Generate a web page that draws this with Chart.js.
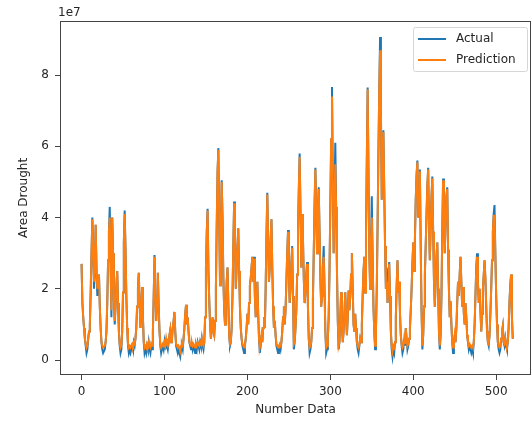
<!DOCTYPE html>
<html>
<head>
<meta charset="utf-8">
<script src="https://cdn.jsdelivr.net/npm/chart.js@4/dist/chart.umd.min.js"></script>
<style>
  html, body { margin: 0; padding: 0; background: #fff; }
</style>
</head>
<body>
<canvas id="droughtChart" width="532" height="421"></canvas>
<script>
// Values are in units of 1e7 (matching the axis offset label)
const seriesNames = ['Actual', 'Prediction'];
const xTicks = [0, 100, 200, 300, 400, 500];
const yTicks = [0, 2, 4, 6, 8];

const actual = [
  2.7,1.6,1.2,0.9,0.6,0.4,0.2,0.3,0.6,0.8,1.0,1.9,3.0,4.0,3.2,2.0,2.5,3.8,2.6,1.8,
  2.1,2.4,1.5,0.9,0.5,0.3,0.2,0.2,0.3,0.5,0.8,1.6,2.8,3.6,4.3,2.7,1.2,4.0,3.0,1.7,
  1.0,1.5,2.1,2.5,1.6,0.8,0.4,0.2,0.3,0.8,1.9,3.3,4.2,3.1,1.8,0.9,0.4,0.2,0.3,0.2,
  0.3,0.4,0.3,0.5,0.4,0.6,0.9,1.5,2.0,2.45,1.6,0.9,1.4,2.05,1.2,0.5,0.2,0.3,0.2,0.4,
  0.3,0.5,0.3,0.2,0.4,0.3,0.8,1.8,2.95,2.0,1.1,1.7,2.45,1.5,0.8,0.4,0.2,0.2,0.4,0.3,
  0.5,0.3,0.6,0.4,0.3,0.5,0.7,0.85,0.5,0.6,0.9,1.1,1.35,0.8,0.4,0.3,0.2,0.3,0.2,0.1,
  0.3,0.4,0.3,0.6,0.9,1.3,1.55,1.0,1.2,0.8,0.5,0.4,0.3,0.5,0.3,0.4,0.3,0.2,0.4,0.3,
  0.5,0.4,0.3,0.5,0.4,0.6,0.4,0.3,0.5,1.2,2.6,3.6,4.25,2.5,1.65,1.0,0.6,0.9,1.2,0.8,
  0.7,1.1,2.0,3.8,5.3,5.95,3.9,2.1,3.6,5.05,4.0,2.3,1.4,1.0,1.5,2.2,2.6,1.6,0.7,0.4,
  0.5,0.9,1.8,3.2,4.45,3.4,2.0,2.6,3.2,3.7,2.5,1.5,0.9,0.6,0.4,0.3,0.2,0.4,0.6,0.9,
  1.3,1.0,1.6,2.1,2.3,2.6,2.9,2.2,2.9,1.8,1.2,1.7,2.2,1.3,0.6,0.2,0.4,0.7,0.5,0.9,
  1.2,0.9,2.0,3.5,4.7,3.3,2.2,2.6,3.4,3.95,2.6,1.5,0.9,1.1,0.7,0.4,0.3,0.2,0.3,0.4,
  0.3,0.5,0.8,1.2,1.5,1.0,1.4,2.2,3.0,3.65,2.4,1.6,2.0,2.7,3.2,1.8,0.3,0.5,0.9,1.4,
  2.4,3.6,4.8,5.8,4.2,2.6,4.1,3.4,2.3,1.6,1.9,2.4,2.75,1.5,0.6,0.2,0.3,0.5,0.9,1.7,
  3.0,4.4,5.4,4.1,3.0,4.2,4.85,3.6,2.3,1.5,1.8,2.6,3.2,2.0,0.8,0.2,0.3,0.6,1.2,2.5,
  4.3,6.2,7.67,5.0,3.0,4.5,6.1,4.3,2.5,1.1,0.3,0.5,1.2,1.9,1.0,0.5,0.8,1.3,1.9,1.2,
  0.7,1.2,1.95,1.4,1.8,2.4,3.0,2.0,1.0,0.8,1.3,0.9,0.5,0.3,0.2,0.4,0.6,0.5,1.0,1.8,
  2.5,2.9,1.9,3.5,5.6,7.65,5.3,3.0,2.0,3.2,4.6,2.9,1.5,0.8,0.3,0.8,2.0,3.8,5.8,7.6,
  9.07,7.0,4.5,5.6,6.45,4.8,3.2,2.0,2.6,1.6,2.1,2.75,1.8,0.8,0.3,0.1,0.3,0.2,0.5,1.2,
  2.1,2.8,1.9,2.2,1.3,0.7,0.4,0.2,0.3,0.6,0.4,0.9,0.6,0.3,0.4,0.6,0.9,1.4,2.0,2.7,
  3.3,2.5,3.4,4.5,5.2,5.6,4.0,4.6,5.35,3.2,1.4,0.3,0.7,1.5,2.4,3.2,4.1,4.9,5.4,3.8,
  2.8,3.7,4.6,5.15,3.6,2.2,1.5,2.2,2.9,3.3,2.0,0.8,0.3,0.7,1.8,3.6,5.1,4.4,3.0,3.9,
  4.6,4.85,3.1,2.0,1.2,1.65,1.0,0.5,0.2,0.4,0.7,0.5,0.9,1.6,2.2,1.8,2.4,2.9,2.2,1.5,
  2.05,1.3,1.0,1.6,1.2,0.7,0.5,0.3,0.4,0.3,0.2,0.3,0.2,0.5,1.0,1.8,2.6,3.0,2.2,1.6,
  2.0,1.4,0.8,1.3,2.0,2.4,2.8,2.3,1.5,0.8,0.5,0.4,0.7,1.3,2.0,2.8,3.6,4.1,4.35,3.0,
  1.8,1.0,0.5,0.3,0.2,0.3,0.6,0.8,0.95,0.5,0.4,0.6,0.4,0.3,0.5,0.9,1.6,2.1,2.4,1.2,0.6
];

const prediction = [
  2.7,1.6,1.2,0.9,0.6,0.45,0.35,0.4,0.6,0.8,1.0,1.9,3.0,3.95,3.2,2.2,2.5,3.8,2.6,2.0,
  2.2,2.4,1.5,0.9,0.5,0.4,0.35,0.35,0.4,0.5,0.8,1.6,2.8,3.6,4.0,2.7,1.4,4.0,3.0,1.7,
  1.1,1.5,2.1,2.5,1.6,0.8,0.45,0.35,0.4,0.8,1.9,3.3,4.1,3.1,1.8,0.9,0.45,0.35,0.4,0.35,
  0.4,0.45,0.4,0.5,0.45,0.6,0.9,1.5,2.0,2.45,1.6,0.9,1.4,2.05,1.2,0.5,0.35,0.4,0.35,0.45,
  0.4,0.5,0.4,0.35,0.45,0.4,0.8,1.8,2.9,2.0,1.1,1.7,2.45,1.5,0.8,0.45,0.35,0.35,0.45,0.4,
  0.5,0.4,0.6,0.45,0.4,0.5,0.7,0.85,0.5,0.6,0.9,1.1,1.35,0.8,0.45,0.4,0.35,0.4,0.35,0.25,
  0.4,0.45,0.4,0.6,0.9,1.3,1.55,1.0,1.2,0.8,0.5,0.45,0.4,0.5,0.4,0.45,0.4,0.35,0.45,0.4,
  0.5,0.45,0.4,0.5,0.45,0.6,0.45,0.4,0.5,1.2,2.6,3.6,4.2,2.5,1.65,1.0,0.6,0.9,1.2,0.8,
  0.7,1.1,2.0,3.8,5.3,5.9,3.9,2.1,3.6,5.0,4.0,2.3,1.4,1.0,1.5,2.2,2.6,1.6,0.7,0.45,
  0.5,0.9,1.8,3.2,4.4,3.4,2.0,2.6,3.2,3.7,2.5,1.5,0.9,0.6,0.45,0.4,0.35,0.45,0.6,0.9,
  1.3,1.0,1.6,2.1,2.3,2.6,2.9,2.2,2.85,1.8,1.2,1.7,2.2,1.3,0.6,0.35,0.45,0.7,0.5,0.9,
  1.2,0.9,2.0,3.5,4.65,3.3,2.2,2.6,3.4,3.95,2.6,1.5,0.9,1.1,0.7,0.45,0.4,0.35,0.4,0.45,
  0.4,0.5,0.8,1.2,1.5,1.0,1.4,2.2,3.0,3.6,2.4,1.6,2.0,2.7,3.15,1.8,0.45,0.5,0.9,1.4,
  2.4,3.6,4.8,5.7,4.2,2.6,4.1,3.4,2.3,1.6,1.9,2.4,2.7,1.5,0.6,0.35,0.4,0.5,0.9,1.7,
  3.0,4.4,5.35,4.1,3.0,4.2,4.8,3.6,2.3,1.5,1.8,2.6,2.9,2.0,0.8,0.35,0.4,0.6,1.2,2.5,
  4.3,6.2,7.4,5.0,3.0,4.5,5.5,4.3,2.5,1.1,0.4,0.5,1.2,1.9,1.0,0.5,0.8,1.3,1.9,1.2,
  0.7,1.2,1.95,1.4,1.8,2.4,3.0,2.0,1.0,0.8,1.3,0.9,0.5,0.4,0.35,0.45,0.6,0.5,1.0,1.8,
  2.5,2.9,1.9,3.5,5.6,7.6,5.3,3.0,2.0,3.2,4.0,2.9,1.5,0.8,0.4,0.8,2.0,3.8,5.8,7.6,
  8.7,7.0,4.5,5.6,6.4,4.8,3.2,2.0,2.2,1.6,2.1,2.7,1.8,0.8,0.4,0.25,0.4,0.35,0.5,1.2,
  2.1,2.8,1.9,2.2,1.3,0.7,0.45,0.35,0.4,0.6,0.45,0.9,0.6,0.4,0.45,0.6,0.9,1.4,2.0,2.7,
  3.3,2.5,3.4,4.5,5.2,5.55,4.0,4.6,5.3,3.2,1.4,0.4,0.7,1.5,2.4,3.2,4.1,4.9,5.35,3.8,
  2.8,3.7,4.6,5.1,3.6,2.2,1.5,2.2,2.9,3.3,2.0,0.8,0.4,0.7,1.8,3.6,5.05,4.4,3.0,3.9,
  4.6,4.8,3.1,2.0,1.2,1.65,1.0,0.5,0.35,0.45,0.7,0.5,0.9,1.6,2.2,1.8,2.4,2.9,2.2,1.5,
  2.05,1.3,1.0,1.6,1.2,0.7,0.5,0.4,0.45,0.4,0.35,0.4,0.35,0.5,1.0,1.8,2.6,2.9,2.2,1.6,
  2.0,1.4,0.8,1.3,2.0,2.4,2.8,2.3,1.5,0.8,0.5,0.45,0.7,1.3,2.0,2.8,3.6,4.05,4.05,3.0,
  1.8,1.0,0.5,0.4,0.35,0.4,0.6,0.8,0.95,0.5,0.45,0.6,0.45,0.4,0.5,0.9,1.6,2.1,2.4,1.2,0.6
];

// x positions are just the sample index
const sampleIndex = actual.map((_, i) => i);

const fontFamily = "'DejaVu Sans', sans-serif";
const textColor = '#262626';
const colors = ['#1f77b4', '#ff7f0e'];

// Full matplotlib-style frame, offset label and legend box
const extras = {
  id: 'extras',
  afterDraw(chart) {
    const { ctx, chartArea: a } = chart;
    ctx.save();
    ctx.strokeStyle = '#444';
    ctx.lineWidth = 1;
    ctx.strokeRect(a.left + 0.5, a.top + 0.5, a.right - a.left - 1, a.bottom - a.top - 1);

    ctx.font = '12px ' + fontFamily;
    ctx.fillStyle = textColor;
    ctx.textAlign = 'left';
    ctx.textBaseline = 'middle';
    ctx.fillText('1e7', a.left - 2, 13);

    // legend
    const lx = a.right - 118, ly = a.top + 6, lw = 114, lh = 44;
    ctx.beginPath();
    ctx.roundRect(lx + 0.5, ly + 0.5, lw, lh, 2);
    ctx.fillStyle = 'rgba(255,255,255,0.8)';
    ctx.fill();
    ctx.strokeStyle = '#d6d6d6';
    ctx.stroke();
    seriesNames.forEach((name, i) => {
      const y = ly + 12 + i * 21;
      ctx.beginPath();
      ctx.moveTo(lx + 5, y);
      ctx.lineTo(lx + 33, y);
      ctx.strokeStyle = colors[i];
      ctx.lineWidth = 2;
      ctx.stroke();
      ctx.fillStyle = textColor;
      ctx.fillText(name, lx + 43, y);
    });
    ctx.restore();
  }
};

new Chart(document.getElementById('droughtChart'), {
  type: 'line',
  data: {
    labels: sampleIndex,
    datasets: [
      { label: seriesNames[0], data: actual, borderColor: colors[0], borderWidth: 2, order: 1 },
      { label: seriesNames[1], data: prediction, borderColor: colors[1], borderWidth: 2, order: 0 }
    ]
  },
  options: {
    responsive: false,
    animation: false,
    devicePixelRatio: 1,
    elements: { point: { radius: 0 }, line: { tension: 0 } },
    layout: { padding: { top: 21, right: 1, left: 0, bottom: 0 } },
    plugins: { legend: { display: false }, tooltip: { enabled: false } },
    scales: {
      x: {
        type: 'linear',
        min: -26,
        max: 542,
        afterBuildTicks: s => { s.ticks = xTicks.map(v => ({ value: v })); },
        afterFit: s => { s.height = 46; },
        grid: { drawOnChartArea: false, tickLength: 5, color: '#444' },
        border: { display: false },
        ticks: { padding: 5, color: textColor, font: { size: 12, family: fontFamily }, maxRotation: 0 },
        title: { display: true, text: 'Number Data', color: textColor,
                 font: { size: 12, family: fontFamily }, padding: { top: 0, bottom: 4 } }
      },
      y: {
        min: -0.42,
        max: 9.52,
        afterBuildTicks: s => { s.ticks = yTicks.map(v => ({ value: v })); },
        afterFit: s => { s.width = 60; },
        grid: { drawOnChartArea: false, tickLength: 5, color: '#444' },
        border: { display: false },
        ticks: { padding: 6, color: textColor, font: { size: 12, family: fontFamily } },
        title: { display: true, text: 'Area Drought', color: textColor,
                 font: { size: 12, family: fontFamily }, padding: { top: 17, bottom: 0 } }
      }
    }
  },
  plugins: [extras]
});
</script>
</body>
</html>
